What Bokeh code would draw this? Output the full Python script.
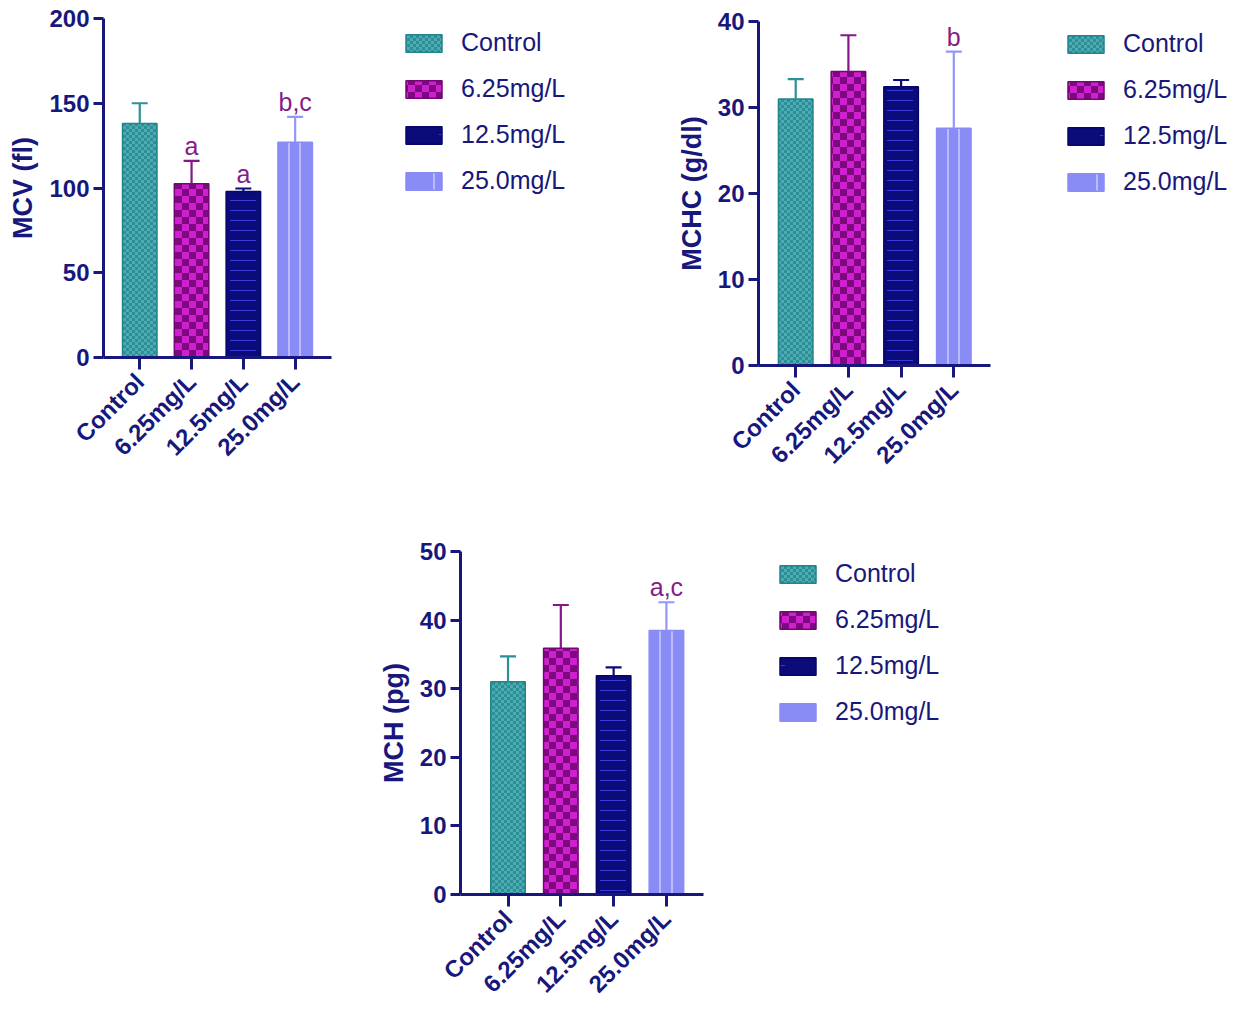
import zlib, struct, base64
import numpy as np
from bokeh.plotting import figure
from bokeh.models import (ColumnDataSource, Range1d, FixedTicker, Legend, LegendItem,
                          ImageURLTexture, Spacer, CDSView, IndexFilter)
from bokeh.layouts import row, column
from bokeh.embed import file_html
from bokeh.resources import INLINE
from bokeh.core.properties import value

# ---------------- data ----------------
groups = ["Control", "6.25mg/L", "12.5mg/L", "25.0mg/L"]

mcv_mean = [138, 102.5, 98, 127]
mcv_sd = [12, 13.5, 1.7, 15]
mcv_marks = ["", "a", "a", "b,c"]

mchc_mean = [31.0, 34.2, 32.4, 27.6]
mchc_sd = [2.3, 4.2, 0.8, 8.9]
mchc_marks = ["", "", "", "b"]

mch_mean = [31.0, 35.9, 31.9, 38.5]
mch_sd = [3.7, 6.3, 1.2, 4.1]
mch_marks = ["", "", "", "a,c"]

# ---------------- style ----------------
NAVY = "#17177c"
MARK = "#861c88"
FONT = "Liberation Sans"
BAR_PX = 34.5


def hex_rgb(h):
    h = h.lstrip("#")
    return tuple(int(h[i:i + 2], 16) for i in (0, 2, 4))


def png_url(w, h, pick):
    raw = b""
    for y in range(h):
        raw += b"\x00" + b"".join(bytes(pick(x, y)) for x in range(w))

    def chunk(t, d):
        return struct.pack(">I", len(d)) + t + d + struct.pack(">I", zlib.crc32(t + d) & 0xffffffff)

    png = (b"\x89PNG\r\n\x1a\n" + chunk(b"IHDR", struct.pack(">IIBBBBB", w, h, 8, 2, 0, 0, 0))
           + chunk(b"IDAT", zlib.compress(raw)) + chunk(b"IEND", b""))
    return "data:image/png;base64," + base64.b64encode(png).decode()


def checker(c1, c2, cell):
    a, b = hex_rgb(c1), hex_rgb(c2)
    return ImageURLTexture(url=png_url(2 * cell, 2 * cell,
                                       lambda x, y: a if ((x // cell) + (y // cell)) % 2 == 0 else b))


def vlines(bg, fg, cols, w=64, h=4):
    a, b = hex_rgb(bg), hex_rgb(fg)
    cols = {c % w for c in cols}
    return ImageURLTexture(url=png_url(w, h, lambda x, y: b if x in cols else a))


def hdash(bg, fg, c_start, length, w=64, h=10):
    a, b = hex_rgb(bg), hex_rgb(fg)
    return ImageURLTexture(url=png_url(w, h, lambda x, y: b if (y == 0 and (x - c_start) % w < length) else a))


err_colors = ["#2b9098", "#86168a", "#0b0b7a", "#9597f8"]


def build(ylabel, means, sds, marks, ymax, ystep, fig_w, fig_h, b_left, b_top, frame_h,
          ppu, x_start, x_axis_end, leg_xy):
    frame_w = fig_w - b_left
    xs = list(range(1, len(groups) + 1))
    upper = list(np.array(means) + np.array(sds))
    src = ColumnDataSource(dict(x=xs, top=means, upper=upper, ecol=err_colors, mark=marks))
    p = figure(width=fig_w, height=fig_h, output_backend="svg", toolbar_location=None, title=None,
               x_range=Range1d(x_start, x_start + frame_w / ppu), y_range=Range1d(0, ymax),
               min_border_left=b_left, min_border_right=0, min_border_top=b_top,
               min_border_bottom=fig_h - b_top - frame_h)
    p.outline_line_color = None
    p.grid.visible = False

    # pixel centres of bars (for texture phase)
    cpx = [b_left + (x - x_start) * ppu for x in xs]
    c3, c4 = cpx[2], cpx[3]
    tex = {
        "t0": checker("#2a8f97", "#50abb1", 3),
        "t1": checker("#cf20cf", "#7e087e", 7),
        "t2": hdash("#0b0b7a", "#3a3ad8", int(round(c3 - BAR_PX / 2 + 4)), int(BAR_PX - 8)),
        "t3": vlines("#8a8cf6", "#babcff",
                     [int(round(c4 - 6.8)), int(round(c4 - 6.8)) + 1,
                      int(round(c4 + 4.8)), int(round(c4 + 4.8)) + 1]),
    }
    bar_styles = [
        dict(fill_color="#2b9098", line_color="#1f848c"),
        dict(fill_color="#800880", line_color="#720672"),
        dict(fill_color="#0b0b7a", line_color="#06066a"),
        dict(fill_color="#8a8cf6", line_color="#8a8cf6"),
    ]

    bar_w = BAR_PX / ppu
    rends = []
    for i in range(len(groups)):
        r = p.vbar(x="x", top="top", bottom=0, width=bar_w, source=src,
                   view=CDSView(filter=IndexFilter([i])), line_width=1.5,
                   hatch_pattern=value("t%d" % i), hatch_extra=tex, **bar_styles[i])
        rends.append(r)
    p.segment(x0="x", y0="top", x1="x", y1="upper", source=src, line_color="ecol", line_width=2.2)
    p.scatter(x="x", y="upper", marker="dash", size=16, source=src, line_color="ecol", line_width=2.2)
    p.text(x="x", y="upper", text="mark", source=src, text_align="center", text_baseline="bottom",
           y_offset=-1, text_color=MARK, text_font=value(FONT), text_font_size="25px")

    # axes
    for ax in (p.xaxis[0], p.yaxis[0]):
        ax.axis_line_color = NAVY
        ax.axis_line_width = 3
        ax.major_tick_line_color = NAVY
        ax.major_tick_line_width = 3
        ax.minor_tick_line_color = None
        ax.major_tick_in = 0
        ax.major_label_text_color = NAVY
        ax.major_label_text_font = FONT
        ax.major_label_text_font_style = "bold"
    p.yaxis.ticker = FixedTicker(ticks=list(range(0, ymax + 1, ystep)))
    p.yaxis.major_tick_out = 10
    p.yaxis.major_label_standoff = 4
    p.yaxis.major_label_text_font_size = "24px"
    p.yaxis.axis_label = ylabel
    p.yaxis.axis_label_text_font = FONT
    p.yaxis.axis_label_text_font_style = "bold"
    p.yaxis.axis_label_text_font_size = "27px"
    p.yaxis.axis_label_text_color = NAVY
    p.yaxis.axis_label_standoff = 8

    p.xaxis.ticker = FixedTicker(ticks=xs)
    p.xaxis.major_label_overrides = {x: g for x, g in zip(xs, groups)}
    p.xaxis.major_label_orientation = np.pi / 4
    p.xaxis.major_tick_out = 12
    p.xaxis.major_label_standoff = 8
    p.xaxis.major_label_text_font_size = "24px"
    p.xaxis.bounds = (x_start, x_axis_end)

    legend = Legend(items=[LegendItem(label=g, renderers=[r]) for g, r in zip(groups, rends)],
                    location=leg_xy, glyph_width=45, glyph_height=22, label_height=18,
                    label_standoff=15, spacing=17, padding=0, margin=0,
                    border_line_color=None, background_fill_alpha=0,
                    label_text_font=FONT, label_text_font_size="25px", label_text_color=NAVY)
    p.add_layout(legend)
    return p


H1 = 490
H3 = 520
p1 = build("MCV (fl)", mcv_mean, mcv_sd, mcv_marks, 200, 50,
           fig_w=658, fig_h=H1, b_left=103, b_top=18, frame_h=339,
           ppu=51.8, x_start=0.30, x_axis_end=4.71, leg_xy=(298, 162))
p2 = build("MCHC (g/dl)", mchc_mean, mchc_sd, mchc_marks, 40, 10,
           fig_w=587, fig_h=H1, b_left=100, b_top=21, frame_h=344,
           ppu=52.7, x_start=0.294, x_axis_end=4.69, leg_xy=(305, 169))
p3 = build("MCH (pg)", mch_mean, mch_sd, mch_marks, 50, 10,
           fig_w=640, fig_h=H3, b_left=100, b_top=61, frame_h=344,
           ppu=52.8, x_start=0.10, x_axis_end=4.71, leg_xy=(315, 168))

layout = column(row(column(p1), column(p2)), row(Spacer(width=360, height=H3), p3))

open("out.html", "w").write(file_html(layout, INLINE))
